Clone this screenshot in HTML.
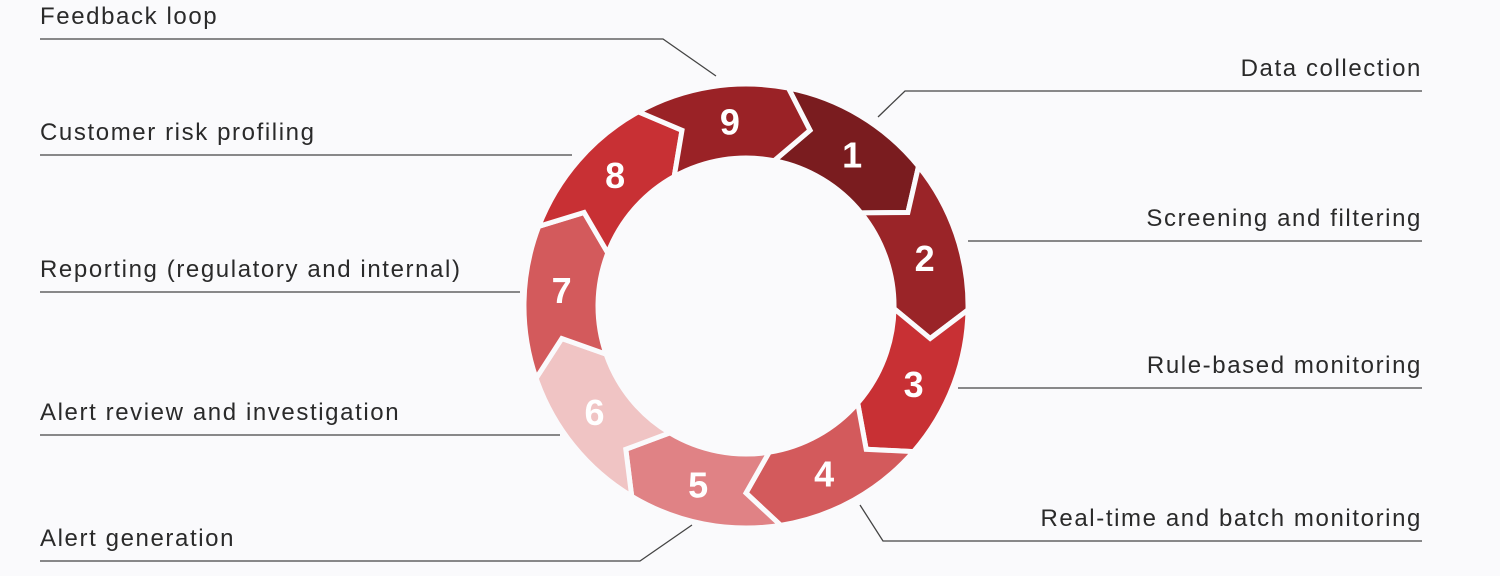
<!DOCTYPE html>
<html><head><meta charset="utf-8"><style>
html,body{margin:0;padding:0;background:#fafafc;}
body{width:1500px;height:576px;overflow:hidden;position:relative;font-family:"Liberation Sans",sans-serif;}
.t{position:absolute;font-size:24px;color:#2a2a2a;letter-spacing:1.6px;white-space:nowrap;}
.r{text-align:right;right:78px;}
</style></head><body>
<svg id="s" width="1500" height="576" style="position:absolute;left:0;top:0">
<g stroke="#444" stroke-width="1.3" fill="none">
<polyline points="40,39 663,39 716,76"/>
<polyline points="1422,91 905,91 878,117"/>
<polyline points="40,155 572,155"/>
<polyline points="968,241 1422,241"/>
<polyline points="40,292 520,292"/>
<polyline points="958,388 1422,388"/>
<polyline points="40,435 560,435"/>
<polyline points="860,505 883,541 1422,541"/>
<polyline points="40,561 640,561 692,525"/>
</g>
<g id="ring"></g>
</svg>
<div class="t" style="left:40px;top:3px">Feedback loop</div>
<div class="t r" style="top:55px">Data collection</div>
<div class="t" style="left:40px;top:119px">Customer risk profiling</div>
<div class="t r" style="top:205px">Screening and filtering</div>
<div class="t" style="left:40px;top:256px">Reporting (regulatory and internal)</div>
<div class="t r" style="top:352px">Rule-based monitoring</div>
<div class="t" style="left:40px;top:399px">Alert review and investigation</div>
<div class="t r" style="top:505px">Real-time and batch monitoring</div>
<div class="t" style="left:40px;top:525px">Alert generation</div>
<script>
var cx=746,cy=306,R=222,r=148,rm=187,tip=9;
var cols=["#7a1c1f","#9a2428","#c83034","#d35a5c","#e08285","#f0c4c4","#d35a5c","#c83034","#9a2226"];
function p(a,rad){var t=(a-90)*Math.PI/180;return (cx+rad*Math.cos(t)).toFixed(1)+","+(cy+rad*Math.sin(t)).toFixed(1);}
var g=document.getElementById("ring"),h="";
for(var k=0;k<9;k++){
 var a=11+40*k, b=a+40;
 var d="M"+p(a,R)+" A"+R+","+R+" 0 0 1 "+p(b,R)+" L"+p(b+tip,rm)+" L"+p(b,r)+" A"+r+","+r+" 0 0 0 "+p(a,r)+" L"+p(a+tip,rm)+" Z";
 h+='<path d="'+d+'" fill="'+cols[k]+'" stroke="#fafafc" stroke-width="5" stroke-linejoin="miter"/>';
 var m=a+24,tt=(m-90)*Math.PI/180;
 h+='<text x="'+(cx+185*Math.cos(tt)).toFixed(1)+'" y="'+(cy+185*Math.sin(tt)+13).toFixed(1)+'" fill="#fff" font-family="Liberation Sans, sans-serif" font-weight="bold" font-size="36" text-anchor="middle">'+(k+1)+'</text>';
}
g.innerHTML=h;
</script>
</body></html>
